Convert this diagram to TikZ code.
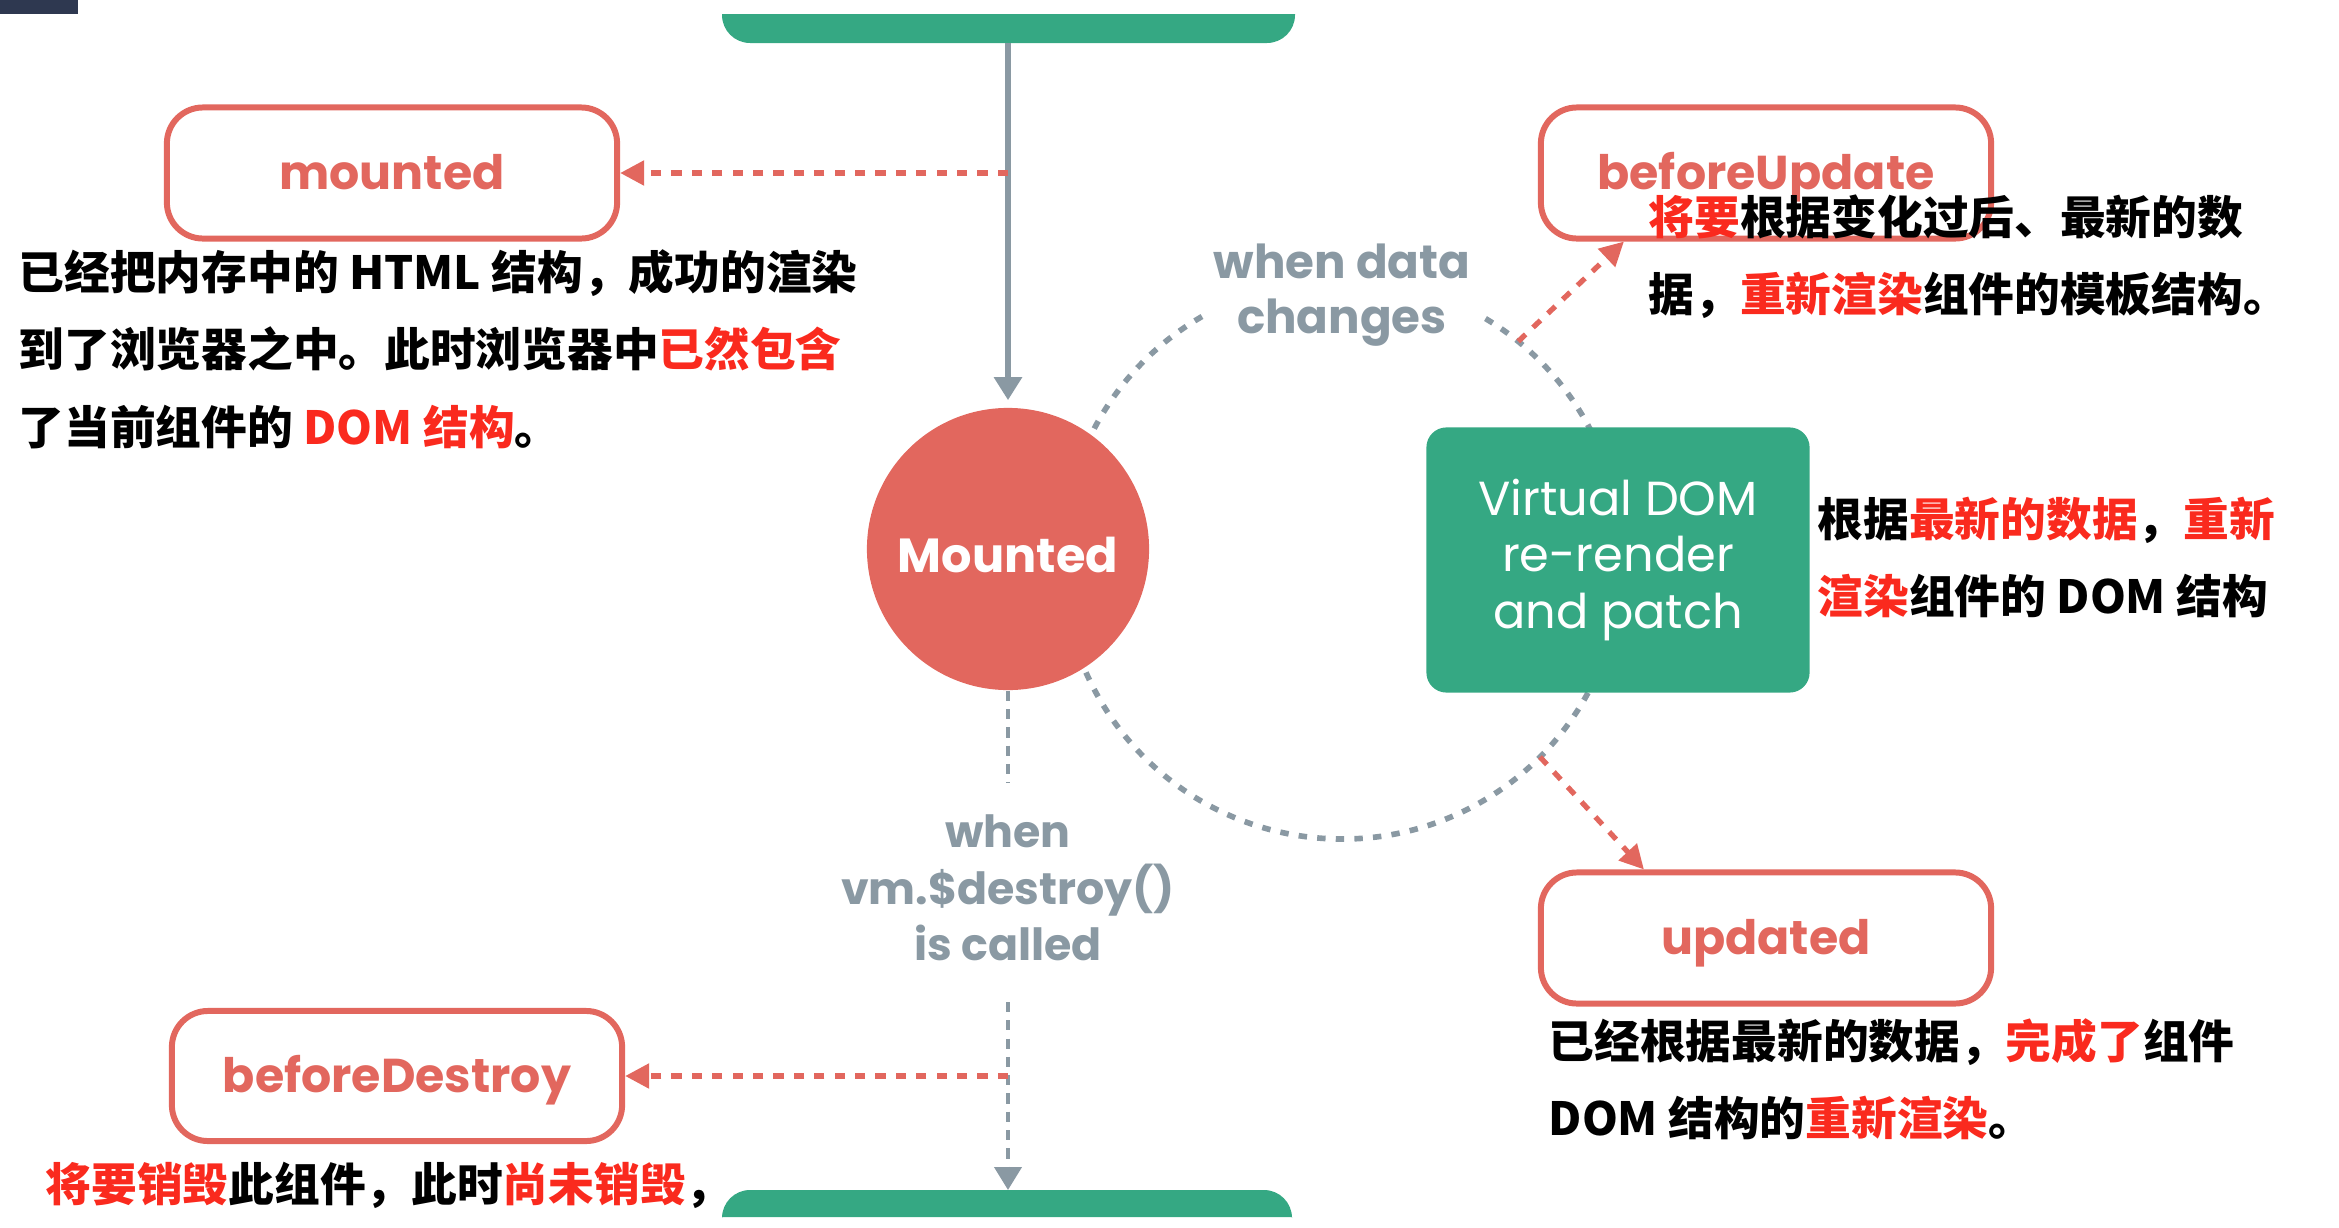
\documentclass[tikz,border=0pt]{standalone}
\usepackage{fontspec}
\usepackage{xcolor}
\usepackage{tikz}
\usetikzlibrary{arrows.meta}
\newfontfamily\cjk{Noto Sans CJK SC}
\newfontfamily\lab{Poppins}
\definecolor{vuegreen}{RGB}{53, 168, 131}
\definecolor{vuered}{RGB}{226, 103, 94}
\definecolor{vuegray}{RGB}{138, 153, 163}
\definecolor{hotred}{RGB}{250, 42, 30}
\definecolor{darkbar}{RGB}{46, 56, 80}
\newcommand{\hot}[1]{\textcolor{hotred}{#1}}
\tikzset{
  hookbox/.style={draw=vuered, line width=1.7pt, rounded corners=0.36cm, fill=white,
    minimum width=4.5cm, minimum height=1.31cm, text=vuered,
    text height=0.36cm, text depth=0.04cm,
    font=\lab\bfseries\fontsize{13.5pt}{16pt}\selectfont},
  hookarrow/.style={vuered, line width=1.5pt, dash pattern=on 2.9pt off 2.9pt,
    -{Triangle[length=2.4mm, width=2.4mm]}},
  cyclearc/.style={vuegray, line width=1.6pt, dash pattern=on 2.4pt off 2.9pt},
  flowline/.style={vuegray, line width=1.7pt, -{Triangle[length=2.3mm, width=2.7mm]}},
  flowdash/.style={flowline, line width=1.2pt, dash pattern=on 2.9pt off 2.3pt},
  note/.style={anchor=north west, align=left, inner sep=0pt,
    font=\cjk\bfseries\fontsize{13pt}{22pt}\selectfont},
  grayq/.style={text=vuegray, align=center, inner sep=0pt,
    font=\lab\bfseries\fontsize{13.3pt}{15.8pt}\selectfont}
}

\begin{document}
\begin{tikzpicture}[x=0.01cm, y=0.01cm]
    \useasboundingbox (0,0) rectangle (2339,-1227);
    \fill[darkbar] (0,0) rectangle (78,-14);

    \fill[vuegreen] (722,-14) -- (1295,-14) {[rounded corners=0.28cm] -- (1295,-43) -- (722,-43)} -- cycle;
    \fill[vuegreen] (722,-1217) -- (1292,-1217) {[rounded corners=0.28cm] -- (1292,-1190) -- (722,-1190)} -- cycle;
    \coordinate (topbar) at (1008,-43);
    \coordinate (botbar) at (1008,-1190);

    \coordinate (dc) at (1342,-559);
    \draw[cyclearc] (dc) ++(120:280) arc[start angle=120, end angle=420, radius=280];
    \path (dc) ++(51:280) coordinate (upfrom);
    \path (dc) ++(-45:280) coordinate (downfrom);

    \node[circle, fill=vuered, minimum size=2.82cm, inner sep=0pt, text=white,
          text height=0.5cm, text depth=0.04cm,
          font=\lab\bfseries\fontsize{13.6pt}{16pt}\selectfont] (mountedc) at (1008,-549) {Mounted};
    \node[fill=vuegreen, rounded corners=0.2cm, minimum width=3.83cm, minimum height=2.65cm,
          text=white, align=center, font=\lab\fontsize{13.6pt}{16pt}\selectfont] (vdom) at (1618,-560)
          {Virtual DOM\\re-render\\and patch};

    \node[hookbox] (mounted) at (392,-173) {mounted};
    \node[hookbox] (beforeupdate) at (1766,-173) {beforeUpdate};
    \node[hookbox] (updated) at (1766,-938) {updated};
    \node[hookbox, minimum height=1.3cm] (beforedestroy) at (397,-1076) {beforeDestroy};

    \node[grayq] (datachg) at (1342,-295) {when data\\changes};
    \node[grayq, font=\lab\bfseries\fontsize{12.6pt}{16pt}\selectfont] (destroyq) at (1008,-888)
          {when\\vm.\$destroy()\\is called};

    \coordinate (m1) at (1008,-173);
    \coordinate (d1) at (1008,-1076);
    \coordinate (dtop) at (1008,-783);
    \coordinate (dlow) at (1008,-1002);
    \coordinate (upto) at ([xshift=0.86cm]beforeupdate.south west);
    \coordinate (downto) at ([xshift=1.06cm]updated.north west);

    \draw[flowline, shorten >=2pt] (topbar) -- (mountedc.north);
    \draw[flowdash, -] (mountedc.south) -- (dtop);
    \draw[flowdash] (dlow) -- (botbar);
    \draw[hookarrow] (m1) -- (mounted.east);
    \draw[hookarrow] (d1) -- (beforedestroy.east);
    \draw[hookarrow] (upfrom) -- (upto);
    \draw[hookarrow] (downfrom) -- (downto);

    \node[note] (mtext) at (18,-249) {已经把内存中的 HTML 结构，成功的渲染\\到了浏览器之中。此时浏览器中\hot{已然包含}\\了当前组件的 \hot{DOM 结构}。};
    \node[note] (butext) at (1648,-194) {\hot{将要}根据变化过后、最新的数\\据，\hot{重新渲染}组件的模板结构。};
    \node[note] (vtext) at (1817,-496) {根据\hot{最新的数据}，\hot{重新}\\\hot{渲染}组件的 DOM 结构};
    \node[note] (uptext) at (1548,-1018) {已经根据最新的数据，\hot{完成了}组件\\DOM 结构的\hot{重新渲染}。};
    \node[note] (bdtext) at (45,-1161) {\hot{将要销毁}此组件，此时\hot{尚未销毁}，};
\end{tikzpicture}
\end{document}
